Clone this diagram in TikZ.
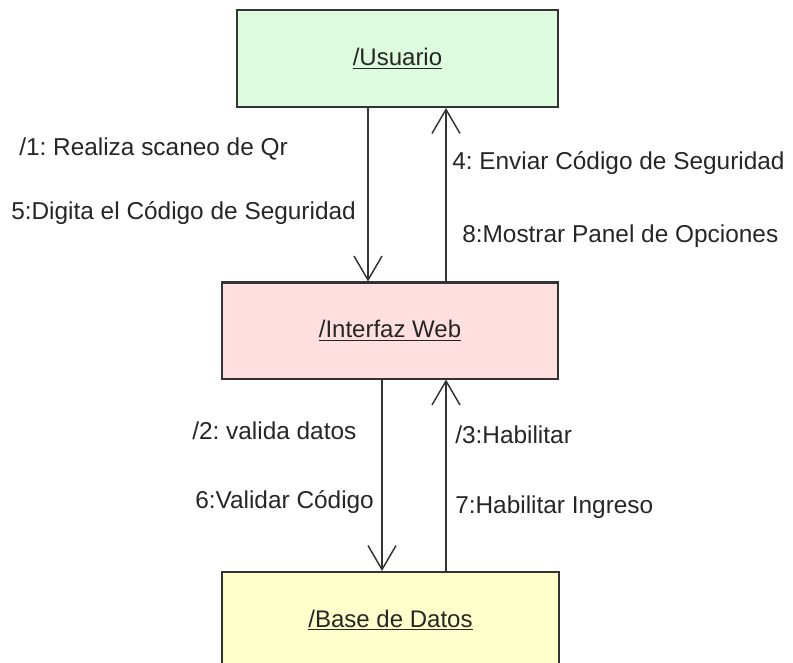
\documentclass[tikz,border=0pt]{standalone}
\usepackage{fontspec}
\setmainfont{Liberation Sans}
\usetikzlibrary{arrows.meta,calc}
\definecolor{ugreen}{RGB}{221,251,221}
\definecolor{ipink}{RGB}{255,223,223}
\definecolor{byellow}{RGB}{255,255,204}
\definecolor{edgegray}{RGB}{51,51,51}
\frenchspacing
\begin{document}
\begin{tikzpicture}[x=0.75pt,y=-0.75pt,
  objbox/.style={draw=edgegray,line width=1.5pt,rectangle,inner sep=0pt,
    font=\fontsize{18}{22}\selectfont,text=black!85},
  msg/.style={font=\fontsize{18.3}{22}\selectfont,inner sep=0pt,anchor=base west,text=black!85},
  arr/.style={draw=black!80,line width=1.5pt,
    -{Straight Barb[length=18pt,width=21pt,line width=1.1pt]}}]
\useasboundingbox (0,0) rectangle (793,663);
\clip (0,0) rectangle (793,663);
% objects
\node[objbox,fill=ugreen,minimum width=240.75pt,minimum height=72.75pt] (u) at (397.5,58.5) {\underline{/Usuario}};
\node[objbox,fill=ipink,minimum width=252pt,minimum height=72pt] (w) at (390,330.5) {\underline{/Interfaz Web}};
\node[objbox,fill=byellow,minimum width=252.75pt,minimum height=72pt] (b) at (390.5,620) {\underline{/Base de Datos}};
% connector x positions
\coordinate (x1) at (368,0);
\coordinate (x2) at (446,0);
\coordinate (x3) at (382,0);
\coordinate (x4) at (446,0);
\draw[arr] (u.south -| x1) -- (w.north -| x1);
\draw[arr] (w.north -| x2) -- (u.south -| x2);
\draw[arr] (w.south -| x3) -- (b.north -| x3);
\draw[arr] (b.north -| x4) -- (w.south -| x4);
% messages
\node[msg] (m1) at (19,156) {/1: Realiza scaneo de Qr};
\node[msg] (m5) at (11,220) {5:Digita el Código de Seguridad};
\node[msg] (m4) at (452,169.5) {4: Enviar Código de Seguridad};
\node[msg] (m8) at (462,242.5) {8:Mostrar Panel de Opciones};
\node[msg] (m2) at (192,439.5) {/2: valida datos};
\node[msg] (m6) at (195,508.5) {6:Validar Código};
\node[msg] (m3) at (455,443.5) {/3:Habilitar};
\node[msg] (m7) at (455,513.5) {7:Habilitar Ingreso};
\end{tikzpicture}
\end{document}
